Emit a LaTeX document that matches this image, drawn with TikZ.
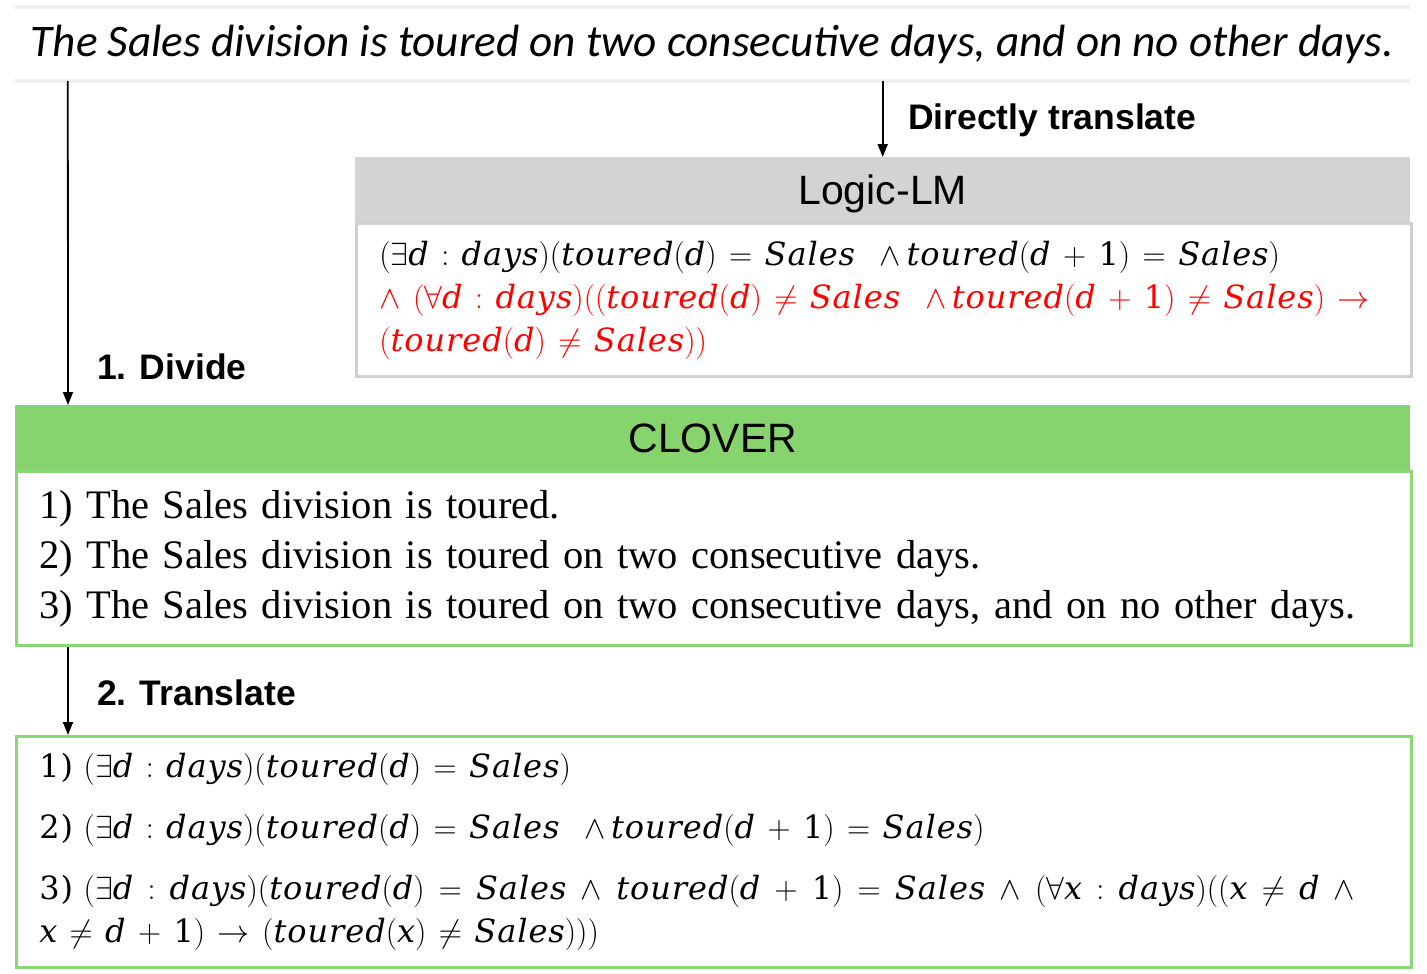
\RequirePackage{fix-cm}
\documentclass[tikz,border=0pt]{standalone}
\usepackage{amsmath}
\usepackage{fontspec}
\setmainfont{Liberation Serif}
\setsansfont{Liberation Sans}
\newfontfamily\handfont{Carlito}
\newfontfamily\formfont[LetterSpace=3]{DejaVu Serif}
\usetikzlibrary{arrows.meta,positioning}
\definecolor{lmgray}{HTML}{D3D3D3}
\definecolor{lmborder}{HTML}{D0D0D0}
\definecolor{clovergreen}{HTML}{87D46E}
\definecolor{cloverline}{HTML}{8CD67A}
\definecolor{bandgray}{HTML}{EFEFEF}
\definecolor{wrongred}{HTML}{FF0000}
\newcommand{\fn}[1]{\text{\formfont\itshape #1}}
\newcommand{\num}[1]{\text{\formfont #1}}
\newcommand{\tour}[1]{\fn{toured}(#1)}
\newcommand{\sls}{\fn{Sales}}
\newcommand{\dys}{\fn{days}}
\thickmuskip=7mu plus 4mu
\medmuskip=7mu plus 4mu

\begin{document}
\begin{tikzpicture}[x=1pt, y=-1pt,
  band/.style={rectangle, inner sep=0pt, minimum width=1395pt, minimum height=74pt,
               font=\handfont\itshape\fontsize{45.2}{52}\selectfont},
  bandline/.style={draw=bandgray, line width=4pt},
  head/.style={rectangle, inner sep=0pt, anchor=north west, minimum width=#1,
               minimum height=65pt, text depth=0pt, font=\sffamily\fontsize{41}{48}\selectfont},
  body/.style={rectangle, anchor=north west, inner xsep=23pt, inner ysep=0pt,
               line width=2.5pt, align=left, text width=#1-46pt},
  mathtxt/.style={font=\fontsize{32}{43}\selectfont},
  lbl/.style={anchor=west, inner sep=0pt, font=\sffamily\bfseries\fontsize{35.5}{40}\selectfont},
  arr/.style={-{Triangle[length=13pt, width=10pt]}, line width=1.8pt}
]
  \useasboundingbox (0,0) rectangle (1427,974);

  %% Input sentence
  \node[band] (sent) at (712.5,44)
    {The Sales division is toured on two consecutive days, and on no other days.};
  \draw[bandline] (sent.north west) -- (sent.north east);
  \draw[bandline] (sent.south west) -- (sent.south east);

  %% Logic-LM
  \node[head=1055pt, fill=lmgray] (lmhead) at (355,157) {Logic-LM};
  \node[body=1055pt, mathtxt, draw=lmborder, minimum height=153pt] (lmbody) at (lmhead.south west)
    {\mbox{$(\exists \fn{d} : \dys)(\tour{\fn{d}} = \sls\;\;{\wedge}\,\tour{\fn{d}+\num{1}} = \sls)$}\\
     {\color{wrongred}\mbox{$\wedge\;(\forall \fn{d} : \dys)((\tour{\fn{d}} \neq \sls\;\;{\wedge}\,\tour{\fn{d}+\num{1}} \neq \sls) \rightarrow$}\\
     \mbox{$(\tour{\fn{d}} \neq \sls))$}}};

  %% CLOVER
  \node[head=1395pt, fill=clovergreen] (clhead) at (15,405) {CLOVER};
  \node[body=1395pt, draw=cloverline, minimum height=174pt,
        font=\fontsize{40.5}{50}\selectfont] (clbody) at (clhead.south west)
    {1) The Sales division is toured.\\
     2) The Sales division is toured on two consecutive days.\\
     3) The Sales division is toured on two consecutive days, and on no other days.};

  \node[body=1395pt, mathtxt, draw=cloverline, minimum height=231pt] (fol) at (15,735)
    {$\num{1)}$ $(\exists \fn{d} : \dys)(\tour{\fn{d}} = \sls)$\\[18pt]
     $\num{2)}$ $(\exists \fn{d} : \dys)(\tour{\fn{d}} = \sls\;\;{\wedge}\,\tour{\fn{d}+\num{1}} = \sls)$\\[18pt]
     \makebox[1330pt][s]{$\num{3)}$ $(\exists \fn{d} : \dys)(\tour{\fn{d}} = \sls \wedge \tour{\fn{d}+\num{1}} = \sls \wedge (\forall \fn{x} : \dys)((\fn{x} \neq \fn{d} \wedge{}$}\\
     $\fn{x} \neq \fn{d}+\num{1}) \rightarrow (\tour{\fn{x}} \neq \sls)))$};

  %% Labels
  \node[lbl] (lbltrans) at (908,120) {Directly translate};
  \node[lbl] (lbldiv) at (97,367) {1. Divide};
  \node[lbl] (lblfol) at (97,693) {2. Translate};

  %% Arrows
  \draw[arr] ([xshift=53pt]sent.south west) -- ([xshift=53pt]clhead.north west);
  \draw[arr] (sent.south -| lmhead.north) -- (lmhead.north);
  \draw[arr] ([xshift=53pt]clbody.south west) -- ([xshift=53pt]fol.north west);
\end{tikzpicture}
\end{document}
